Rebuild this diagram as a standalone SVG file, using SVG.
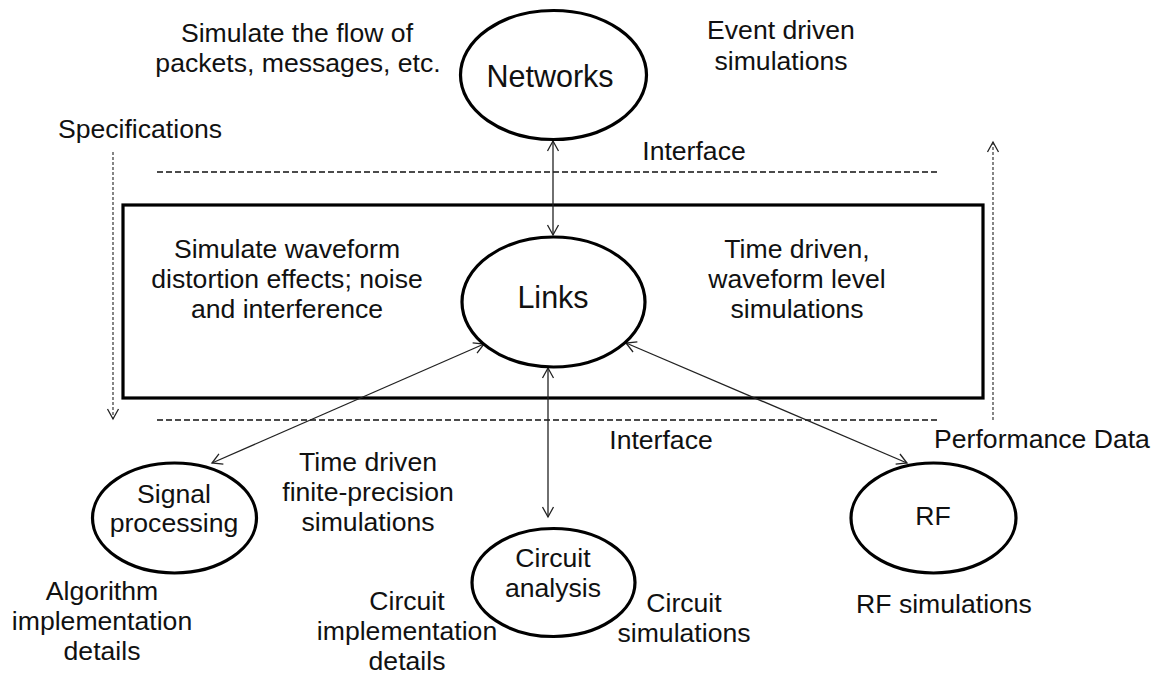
<svg xmlns="http://www.w3.org/2000/svg" width="1159" height="678" viewBox="0 0 1159 678">
  <style>
    text { font-family: "Liberation Sans", Arial, sans-serif; font-size: 26.6px; fill: #111; text-anchor: middle; }
    text.title { font-size: 30.5px; }
    .node { fill: #fff; stroke: #000; stroke-width: 3.2; }
    .box { fill: none; stroke: #000; stroke-width: 3.2; }
    .iface { stroke: #111; stroke-width: 1.6; stroke-dasharray: 6 3; fill: none; }
    .flow { stroke: #222; stroke-width: 1.1; stroke-dasharray: 3 2; fill: none; }
    .link { stroke: #222; stroke-width: 1.3; fill: none; }
  </style>
  <defs>
    <marker id="open-arrow" markerUnits="userSpaceOnUse" markerWidth="16" markerHeight="16" refX="12" refY="8" orient="auto-start-reverse" viewBox="0 0 16 16">
      <polyline points="2,2.5 12,8 2,13.5" fill="none" stroke="#222" stroke-width="1.3"/>
    </marker>
  </defs>

  <rect width="1159" height="678" fill="#fff"/>

  <!-- link-level simulation frame -->
  <rect class="box" x="123" y="205" width="860" height="193"/>

  <!-- interface boundaries -->
  <line class="iface" x1="157" y1="172" x2="938" y2="172"/>
  <line class="iface" x1="157" y1="420" x2="938" y2="420"/>

  <!-- specifications / performance data flow -->
  <g id="flows">
    <line class="flow" x1="113" y1="152" x2="113" y2="419" marker-end="url(#open-arrow)"/>
    <line class="flow" x1="993" y1="420" x2="993" y2="142" marker-end="url(#open-arrow)"/>
  </g>

  <g id="connectors">
    <line class="link" x1="553" y1="141" x2="553" y2="235" marker-start="url(#open-arrow)" marker-end="url(#open-arrow)"/>
    <line class="link" x1="484" y1="344" x2="212" y2="463" marker-start="url(#open-arrow)" marker-end="url(#open-arrow)"/>
    <line class="link" x1="548" y1="368" x2="548" y2="517" marker-start="url(#open-arrow)" marker-end="url(#open-arrow)"/>
    <line class="link" x1="626" y1="343" x2="907" y2="463" marker-start="url(#open-arrow)" marker-end="url(#open-arrow)"/>
  </g>

  <g id="networks">
    <ellipse class="node" cx="553.5" cy="75" rx="93" ry="64.5"/>
    <text class="title" x="550" y="87">Networks</text>
  </g>

  <g id="links">
    <ellipse class="node" cx="553.5" cy="302" rx="91.5" ry="65"/>
    <text class="title" x="553" y="308">Links</text>
  </g>

  <g id="signal-processing">
    <ellipse class="node" cx="174.5" cy="518" rx="82" ry="55"/>
    <text x="174" y="503">Signal</text>
    <text x="174" y="532">processing</text>
  </g>

  <g id="circuit-analysis">
    <ellipse class="node" cx="553.5" cy="582.5" rx="81.5" ry="54"/>
    <text x="553" y="567">Circuit</text>
    <text x="553" y="597">analysis</text>
  </g>

  <g id="rf">
    <ellipse class="node" cx="933.5" cy="518" rx="82.5" ry="55"/>
    <text x="933" y="525">RF</text>
  </g>

  <!-- annotations -->
  <g id="labels">
    <text x="297" y="42">Simulate the flow of</text>
    <text x="298" y="72">packets, messages, etc.</text>
    <text x="781" y="39">Event driven</text>
    <text x="781" y="70">simulations</text>
    <text x="140" y="138">Specifications</text>
    <text x="694" y="160">Interface</text>
    <text x="287" y="258">Simulate waveform</text>
    <text x="287" y="288">distortion effects; noise</text>
    <text x="287" y="318">and interference</text>
    <text x="797" y="258">Time driven,</text>
    <text x="797" y="288">waveform level</text>
    <text x="797" y="318">simulations</text>
    <text x="661" y="449">Interface</text>
    <text x="1042" y="448">Performance Data</text>
    <text x="368" y="471">Time driven</text>
    <text x="368" y="501">finite-precision</text>
    <text x="368" y="531">simulations</text>
    <text x="102" y="600">Algorithm</text>
    <text x="102" y="630">implementation</text>
    <text x="102" y="660">details</text>
    <text x="407" y="610">Circuit</text>
    <text x="407" y="640">implementation</text>
    <text x="407" y="670">details</text>
    <text x="684" y="612">Circuit</text>
    <text x="684" y="642">simulations</text>
    <text x="944" y="613">RF simulations</text>
  </g>
</svg>
